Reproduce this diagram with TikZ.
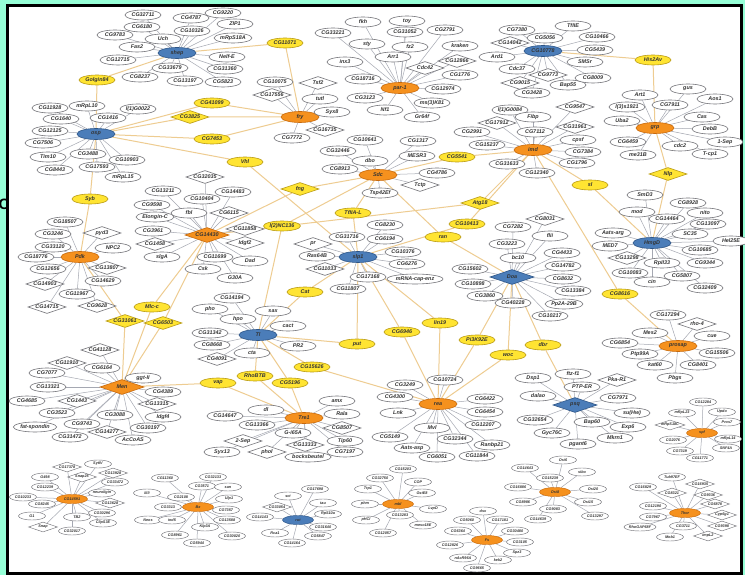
\documentclass[tikz,border=0pt]{standalone}
\usepackage{fontspec}
\setmainfont{Liberation Sans}
\usetikzlibrary{shapes.geometric,backgrounds}
\definecolor{mintframe}{RGB}{150,255,215}
\definecolor{hubfill}{RGB}{245,145,30}
\definecolor{hubline}{RGB}{200,105,10}
\definecolor{bluefill}{RGB}{75,125,185}
\definecolor{blueline}{RGB}{45,85,135}
\definecolor{linkfill}{RGB}{255,228,50}
\definecolor{linkline}{RGB}{185,155,20}
\definecolor{genegray}{RGB}{115,115,120}
\definecolor{edgegray}{RGB}{165,168,178}
\definecolor{edgetan}{RGB}{238,204,145}
\newcommand{\genefnt}{\fontsize{5.4}{5.4}\selectfont\bfseries\itshape}
\newcommand{\smallfnt}{\fontsize{3.8}{3.8}\selectfont\bfseries\itshape}

\begin{document}
\begin{tikzpicture}[
    x=1pt, y=-1pt,
    gn/.style={ellipse,draw=genegray,fill=white,line width=0.6pt,inner sep=0.6pt,
      minimum width=36pt,minimum height=10pt,font=\genefnt,text=black!80},
    gd/.style={diamond,aspect=3,draw=genegray,fill=white,line width=0.6pt,inner sep=0.4pt,
      minimum width=38pt,minimum height=13pt,font=\genefnt,text=black!80},
    hubo/.style={gn,fill=hubfill,draw=hubline,minimum width=38pt,minimum height=11pt},
    hubb/.style={gn,fill=bluefill,draw=blueline,minimum width=38pt,minimum height=11pt},
    hubod/.style={gd,fill=hubfill,draw=hubline,minimum width=44pt,minimum height=15pt},
    hubbd/.style={gd,fill=bluefill,draw=blueline,minimum width=44pt,minimum height=15pt},
    yl/.style={gn,fill=linkfill,draw=linkline},
    yd/.style={gd,fill=linkfill,draw=linkline},
    sg/.style={gn,font=\smallfnt,line width=0.45pt,minimum width=27pt,minimum height=8pt,inner sep=0.3pt},
    sd/.style={gd,font=\smallfnt,line width=0.45pt,minimum width=29pt,minimum height=10pt,inner sep=0.2pt},
    shubo/.style={sg,fill=hubfill,draw=hubline,minimum width=31pt,minimum height=9pt},
    shubb/.style={sg,fill=bluefill,draw=blueline,minimum width=31pt,minimum height=9pt},
    gline/.style={draw=edgegray,line width=0.5pt},
    tline/.style={draw=edgetan,line width=1pt}
  ]
  \useasboundingbox (0,0) rectangle (745,575);

  % shep
  \node[hubb] (shep) at (177,53) {shep};
  \node[gn] (sh1) at (143,15) {CG32711};
  \node[gn] (sh2) at (191,18) {CG4787};
  \node[gn] (sh3) at (142,27) {CG6180};
  \node[gn] (sh4) at (192,31) {CG10326};
  \node[gn] (sh5) at (115,35) {CG9783};
  \node[gn] (sh6) at (163,39) {Uch};
  \node[gn] (sh7) at (137,47) {Fas2};
  \node[gn] (sh8) at (118,60) {CG12715};
  \node[gn] (sh9) at (170,68) {CG33679};
  \node[gn] (sh10) at (140,77) {CG8237};
  \node[gn] (sh11) at (185,81) {CG13197};
  \node[gn] (sh12) at (223,13) {CG9220};
  \node[gn] (sh13) at (235,24) {ZIP1};
  \node[gn] (sh14) at (233,38) {mRpS18A};
  \node[gn] (sh15) at (227,57) {Nelf-E};
  \node[gn] (sh16) at (225,69) {CG31360};
  \node[gn] (sh17) at (223,82) {CG5823};

  % osp
  \node[hubb] (osp) at (96,134) {osp};
  \node[gn] (os1) at (87,106) {mRpL10};
  \node[gn] (os2) at (50,108) {CG11928};
  \node[gn] (os3) at (138,109) {l(1)G0022};
  \node[gn] (os4) at (61,119) {CG1640};
  \node[gn] (os5) at (108,118) {CG1416};
  \node[gn] (os6) at (50,131) {CG12125};
  \node[gn] (os7) at (43,143) {CG7506};
  \node[gn] (os8) at (48,157) {Tim10};
  \node[gn] (os9) at (88,154) {CG3488};
  \node[gn] (os10) at (127,160) {CG10903};
  \node[gn] (os11) at (55,170) {CG8443};
  \node[gn] (os12) at (97,167) {CG17593};
  \node[gn] (os13) at (123,177) {mRpL15};

  % fry
  \node[hubo] (fry) at (300,117) {fry};
  \node[gn] (fr1) at (275,82) {CG10075};
  \node[gd] (fr2) at (318,83) {Tsf2};
  \node[gd] (fr3) at (272,95) {CG17556};
  \node[gn] (fr4) at (320,99) {tutl};
  \node[gn] (fr5) at (332,112) {Syx8};
  \node[gd] (fr6) at (325,130) {CG16735};
  \node[gn] (fr7) at (292,138) {CG7772};

  % par-1
  \node[hubo] (par) at (400,88) {par-1};
  \node[gn] (pa1) at (363,22) {fkh};
  \node[gn] (pa2) at (407,21) {toy};
  \node[gn] (pa3) at (333,33) {CG33221};
  \node[gn] (pa4) at (405,32) {CG31052};
  \node[gn] (pa5) at (445,30) {CG2791};
  \node[gn] (pa6) at (367,44) {sty};
  \node[gn] (pa7) at (410,47) {fz2};
  \node[gn] (pa8) at (460,46) {kraken};
  \node[gn] (pa9) at (345,62) {inx3};
  \node[gn] (pa10) at (393,57) {Arr1};
  \node[gd] (pa11) at (425,68) {Cdc42};
  \node[gd] (pa12) at (457,61) {CG12866};
  \node[gn] (pa13) at (460,75) {CG1776};
  \node[gn] (pa14) at (363,79) {CG18716};
  \node[gn] (pa15) at (443,89) {CG12974};
  \node[gn] (pa16) at (365,98) {CG3123};
  \node[gn] (pa17) at (432,103) {ms(3)K81};
  \node[gn] (pa18) at (385,110) {Nf1};
  \node[gn] (pa19) at (422,117) {Gr64f};

  % Sdc
  \node[hubo] (Sdc) at (378,175) {Sdc};
  \node[gn] (sd1) at (365,140) {CG10641};
  \node[gn] (sd2) at (338,151) {CG32446};
  \node[gn] (sd3) at (370,161) {dbo};
  \node[gn] (sd4) at (340,169) {CG8913};
  \node[gn] (sd5) at (418,141) {CG1317};
  \node[gn] (sd6) at (417,156) {MESR3};
  \node[gn] (sd7) at (437,173) {CG4786};
  \node[gd] (sd8) at (420,185) {Tctp};
  \node[gn] (sd9) at (380,193) {Tsp42Ef};

  % CG10778
  \node[hubb] (cgb) at (543,51) {CG10778};
  \node[gn] (cb1) at (517,30) {CG7380};
  \node[gn] (cb2) at (545,38) {CG5056};
  \node[gd] (cb3) at (510,43) {CG14042};
  \node[gn] (cb4) at (497,57) {Ard1};
  \node[gn] (cb5) at (517,69) {Cdc37};
  \node[gd] (cb6) at (548,75) {CG9773};
  \node[gd] (cb7) at (520,83) {CG9015};
  \node[gn] (cb8) at (568,85) {Bap55};
  \node[gn] (cb9) at (532,93) {CG3428};
  \node[gn] (cb10) at (573,26) {TfIIE};
  \node[gn] (cb11) at (597,37) {CG10466};
  \node[gn] (cb12) at (595,50) {CG5439};
  \node[gn] (cb13) at (585,62) {SMSr};
  \node[gn] (cb14) at (593,78) {CG8009};

  % imd
  \node[hubo] (imd) at (533,150) {imd};
  \node[gn] (im1) at (510,110) {l(1)G0084};
  \node[gd] (im2) at (575,107) {CG9547};
  \node[gn] (im3) at (533,117) {Fibp};
  \node[gd] (im4) at (497,123) {CG17912};
  \node[gn] (im5) at (472,132) {CG2991};
  \node[gn] (im6) at (535,132) {CG7112};
  \node[gn] (im7) at (487,145) {CG15237};
  \node[gd] (im8) at (575,127) {CG31961};
  \node[gn] (im9) at (578,140) {cpsf};
  \node[gn] (im10) at (583,152) {CG7384};
  \node[gn] (im11) at (577,163) {CG1796};
  \node[gn] (im12) at (507,164) {CG31633};
  \node[gn] (im13) at (537,173) {CG12340};

  % grp
  \node[hubo] (grp) at (655,128) {grp};
  \node[gn] (gr1) at (688,89) {gus};
  \node[gn] (gr2) at (640,95) {Art1};
  \node[gn] (gr3) at (715,99) {Aos1};
  \node[gn] (gr4) at (627,107) {l(3)s1921};
  \node[gn] (gr5) at (670,105) {CG7911};
  \node[gn] (gr6) at (622,121) {Uba2};
  \node[gn] (gr7) at (702,117) {Cas};
  \node[gn] (gr8) at (710,129) {DebB};
  \node[gn] (gr9) at (628,142) {CG6459};
  \node[gn] (gr10) at (680,146) {cdc2};
  \node[gn] (gr11) at (725,142) {1-Sep};
  \node[gn] (gr12) at (638,155) {me31B};
  \node[gn] (gr13) at (710,154) {T-cp1};

  % Pdk
  \node[hubo] (Pdk) at (80,257) {Pdk};
  \node[gn] (pd1) at (65,222) {CG18507};
  \node[gn] (pd2) at (53,234) {CG3246};
  \node[gd] (pd3) at (102,233) {pyd3};
  \node[gn] (pd4) at (53,247) {CG33120};
  \node[gn] (pd5) at (113,248) {NPC2};
  \node[gn] (pd6) at (36,257) {CG18776};
  \node[gn] (pd7) at (48,269) {CG12656};
  \node[gd] (pd8) at (107,268) {CG13807};
  \node[gd] (pd9) at (45,284) {CG14903};
  \node[gn] (pd10) at (103,281) {CG14629};
  \node[gn] (pd11) at (77,294) {CG11967};
  \node[gd] (pd12) at (47,307) {CG14715};
  \node[gd] (pd13) at (97,306) {CG9628};

  % CG14430
  \node[hubod] (cgd) at (207,235) {CG14430};
  \node[gn] (cd1) at (163,191) {CG13211};
  \node[gd] (cd2) at (205,177) {CG32035};
  \node[gn] (cd3) at (233,192) {CG14483};
  \node[gn] (cd4) at (152,205) {CG9598};
  \node[gn] (cd5) at (202,199) {CG10404};
  \node[gn] (cd6) at (155,217) {Elongin-C};
  \node[gn] (cd7) at (189,213) {fbl};
  \node[gd] (cd8) at (229,213) {CG6115};
  \node[gn] (cd9) at (153,231) {CG3961};
  \node[gd] (cd10) at (155,244) {CG1458};
  \node[gd] (cd11) at (245,229) {CG11858};
  \node[gn] (cd12) at (162,257) {slgA};
  \node[gd] (cd13) at (245,243) {Idgf2};
  \node[gn] (cd14) at (215,257) {CG11699};
  \node[gn] (cd15) at (250,261) {Dad};
  \node[gn] (cd16) at (203,269) {Csk};
  \node[gn] (cd17) at (235,278) {G30A};

  % slp1
  \node[hubb] (slp) at (358,257) {slp1};
  \node[gn] (sl1) at (347,237) {CG31716};
  \node[gd] (sl2) at (313,244) {pr};
  \node[gn] (sl3) at (317,256) {Ras64B};
  \node[gd] (sl4) at (325,269) {CG11033};
  \node[gn] (sl5) at (368,277) {CG17168};
  \node[gn] (sl6) at (348,289) {CG11807};
  \node[gn] (sl7) at (385,225) {CG8230};
  \node[gn] (sl8) at (385,239) {CG6194};
  \node[gn] (sl9) at (403,252) {CG10376};
  \node[gn] (sl10) at (407,264) {CG6276};
  \node[gn] (sl11) at (415,279) {mRNA-cap-enz};

  % Doa
  \node[hubbd] (Doa) at (512,277) {Doa};
  \node[gd] (do1) at (545,219) {CG8031};
  \node[gn] (do2) at (513,227) {CG7282};
  \node[gn] (do3) at (550,236) {flii};
  \node[gn] (do4) at (507,244) {CG3223};
  \node[gn] (do5) at (562,253) {CG4433};
  \node[gn] (do6) at (518,258) {bc10};
  \node[gn] (do7) at (563,266) {CG14782};
  \node[gn] (do8) at (470,269) {CG15602};
  \node[gn] (do9) at (563,279) {CG8632};
  \node[gn] (do10) at (473,284) {CG10898};
  \node[gn] (do11) at (573,291) {CG13384};
  \node[gn] (do12) at (485,296) {CG3860};
  \node[gn] (do13) at (513,303) {CG40228};
  \node[gn] (do14) at (564,304) {Pp2A-29B};
  \node[gn] (do15) at (550,316) {CG10217};

  % HmgD
  \node[hubb] (HmgD) at (652,243) {HmgD};
  \node[gn] (hm1) at (645,195) {SmD3};
  \node[gn] (hm2) at (688,203) {CG8928};
  \node[gn] (hm3) at (637,212) {mod};
  \node[gn] (hm4) at (667,219) {CG14464};
  \node[gn] (hm5) at (705,213) {nito};
  \node[gn] (hm6) at (708,224) {CG13097};
  \node[gn] (hm7) at (613,233) {Aats-arg};
  \node[gn] (hm8) at (690,234) {SC35};
  \node[gn] (hm9) at (731,241) {Hel25E};
  \node[gn] (hm10) at (610,246) {MED7};
  \node[gn] (hm11) at (700,250) {CG10685};
  \node[gd] (hm12) at (627,258) {CG13298};
  \node[gn] (hm13) at (662,263) {RpII33};
  \node[gn] (hm14) at (705,263) {CG9344};
  \node[gn] (hm15) at (630,273) {CG10083};
  \node[gn] (hm16) at (682,276) {CG5807};
  \node[gn] (hm17) at (652,282) {cin};
  \node[gn] (hm18) at (705,288) {CG32409};

  % Tl
  \node[hubb] (Tl) at (258,335) {Tl};
  \node[gn] (tl1) at (232,298) {CG14194};
  \node[gn] (tl2) at (210,309) {pho};
  \node[gn] (tl3) at (273,311) {sax};
  \node[gn] (tl4) at (238,319) {hpo};
  \node[gn] (tl5) at (288,326) {cact};
  \node[gn] (tl6) at (210,333) {CG31342};
  \node[gn] (tl7) at (212,345) {CG8668};
  \node[gn] (tl8) at (298,346) {PR2};
  \node[gn] (tl9) at (252,353) {cta};
  \node[gd] (tl10) at (217,359) {CG4091};

  % prosap
  \node[hubo] (prosap) at (678,346) {prosap};
  \node[gn] (pr1) at (668,315) {CG17294};
  \node[gd] (pr2) at (697,324) {rho-4};
  \node[gn] (pr3) at (650,333) {Mes2};
  \node[gn] (pr4) at (712,336) {cue};
  \node[gn] (pr5) at (620,343) {CG6854};
  \node[gn] (pr6) at (717,353) {CG15506};
  \node[gn] (pr7) at (640,354) {Ptp99A};
  \node[gn] (pr8) at (655,365) {kat60};
  \node[gn] (pr9) at (698,365) {CG8401};
  \node[gn] (pr10) at (675,378) {Pbgs};

  % Men
  \node[hubod] (Men) at (122,387) {Men};
  \node[gd] (me1) at (100,350) {CG41128};
  \node[gd] (me2) at (67,363) {CG11910};
  \node[gn] (me3) at (102,368) {CG6164};
  \node[gn] (me4) at (47,373) {CG7077};
  \node[gn] (me5) at (143,378) {ggt-II};
  \node[gn] (me6) at (48,387) {CG13321};
  \node[gn] (me7) at (163,392) {CG4389};
  \node[gn] (me8) at (27,401) {CG4685};
  \node[gd] (me9) at (77,401) {CG1443};
  \node[gd] (me10) at (157,404) {CG13315};
  \node[gn] (me11) at (57,413) {CG3523};
  \node[gn] (me12) at (115,415) {CG3088};
  \node[gn] (me13) at (163,417) {Idgf4};
  \node[gn] (me14) at (35,427) {fat-spondin};
  \node[gn] (me15) at (82,424) {CG9743};
  \node[gd] (me16) at (107,432) {CG14277};
  \node[gn] (me17) at (148,428) {CG30197};
  \node[gn] (me18) at (70,437) {CG31472};
  \node[gn] (me19) at (133,440) {AcCoAS};

  % Tre1
  \node[hubo] (Tre) at (304,418) {Tre1};
  \node[gn] (tr1) at (337,401) {amx};
  \node[gn] (tr2) at (266,410) {dl};
  \node[gn] (tr3) at (225,416) {CG14647};
  \node[gn] (tr4) at (342,414) {Rala};
  \node[gn] (tr5) at (257,425) {CG13366};
  \node[gd] (tr6) at (342,428) {CG8507};
  \node[gn] (tr7) at (293,433) {G-i65A};
  \node[gd] (tr8) at (243,441) {2-Sep};
  \node[gd] (tr9) at (305,445) {CG13333};
  \node[gn] (tr10) at (345,441) {Tip60};
  \node[gn] (tr11) at (222,452) {Syx13};
  \node[gd] (tr12) at (267,452) {phol};
  \node[gn] (tr13) at (308,457) {bocksbeutel};
  \node[gn] (tr14) at (345,452) {CG7197};

  % rea
  \node[hubo] (rea) at (438,404) {rea};
  \node[gn] (re1) at (405,385) {CG3249};
  \node[gn] (re2) at (445,380) {CG10724};
  \node[gn] (re3) at (395,397) {CG4300};
  \node[gn] (re4) at (485,399) {CG6422};
  \node[gn] (re5) at (398,413) {Lnk};
  \node[gn] (re6) at (485,412) {CG6454};
  \node[gn] (re7) at (432,428) {Mvl};
  \node[gn] (re8) at (483,425) {CG12207};
  \node[gn] (re9) at (390,437) {CG5149};
  \node[gn] (re10) at (455,439) {CG32344};
  \node[gn] (re11) at (492,445) {Ranbp21};
  \node[gn] (re12) at (412,448) {Aats-asp};
  \node[gn] (re13) at (437,457) {CG6051};
  \node[gn] (re14) at (477,456) {CG11844};

  % psq
  \node[hubbd] (psq) at (575,405) {psq};
  \node[gn] (ps1) at (533,378) {Dsp1};
  \node[gn] (ps2) at (573,374) {ftz-f1};
  \node[gd] (ps3) at (617,380) {Pka-R1};
  \node[gn] (ps4) at (582,387) {PTP-ER};
  \node[gn] (ps5) at (538,396) {dalao};
  \node[gn] (ps6) at (618,398) {CG7971};
  \node[gn] (ps7) at (632,413) {su(Hw)};
  \node[gn] (ps8) at (535,420) {CG32654};
  \node[gn] (ps9) at (592,422) {Bap60};
  \node[gn] (ps10) at (628,427) {Exp6};
  \node[gn] (ps11) at (552,433) {Gyc76C};
  \node[gn] (ps12) at (615,438) {Mkrn1};
  \node[gn] (ps13) at (578,444) {pgant6};

  % small clusters
  \node[shubo] (cgs) at (72,499) {CG14591};
  \node[sd] (cs1) at (67,467) {CG17378};
  \node[sg] (cs2) at (98,464) {SytIV};
  \node[sd] (cs3) at (82,477) {Snap25};
  \node[sd] (cs4) at (113,473) {CG13928};
  \node[sg] (cs5) at (45,477) {G498};
  \node[sg] (cs6) at (115,482) {CG33472};
  \node[sg] (cs7) at (45,487) {CG12239};
  \node[sg] (cs8) at (23,497) {CG10233};
  \node[sg] (cs9) at (102,493) {neuroligin};
  \node[sg] (cs10) at (42,504) {CG8245};
  \node[sd] (cs11) at (110,503) {CG13628};
  \node[sg] (cs12) at (102,513) {CG30296};
  \node[sg] (cs13) at (32,516) {G1};
  \node[sg] (cs14) at (77,517) {TB2};
  \node[sg] (cs15) at (103,523) {ClipS3E};
  \node[sd] (cs16) at (43,527) {Snap};
  \node[sg] (cs17) at (72,531) {CG32017};

  \node[shubo] (Bx) at (198,507) {Bx};
  \node[sg] (bx1) at (165,478) {CG11360};
  \node[sg] (bx2) at (213,477) {CG32133};
  \node[sg] (bx3) at (202,486) {CG3571};
  \node[sg] (bx4) at (228,487) {san};
  \node[sg] (bx5) at (147,493) {lilli};
  \node[sg] (bx6) at (181,497) {CG2108};
  \node[sg] (bx7) at (229,499) {Ulp1};
  \node[sg] (bx8) at (168,507) {CG3313};
  \node[sg] (bx9) at (226,510) {CG7357};
  \node[sg] (bx10) at (148,520) {Neos};
  \node[sg] (bx11) at (172,520) {ind5};
  \node[sg] (bx12) at (227,520) {CG13588};
  \node[sg] (bx13) at (205,527) {Klp3A};
  \node[sg] (bx14) at (232,536) {CG30020};
  \node[sg] (bx15) at (175,535) {CG8961};
  \node[sg] (bx16) at (197,543) {CG5944};

  \node[shubb] (rut) at (298,520) {rut};
  \node[sg] (ru1) at (315,489) {CG17698};
  \node[sg] (ru2) at (288,496) {sct};
  \node[sg] (ru3) at (323,503) {tau};
  \node[sd] (ru4) at (277,507) {CG33054};
  \node[sg] (ru5) at (328,514) {RpS10a};
  \node[sg] (ru6) at (260,517) {CG14143};
  \node[sg] (ru7) at (323,527) {CG31640};
  \node[sg] (ru8) at (275,533) {Rca1};
  \node[sg] (ru9) at (318,536) {CG5847};
  \node[sg] (ru10) at (292,543) {CG14164};

  \node[shubo] (mbl) at (398,504) {mbl};
  \node[sg] (mb1) at (403,469) {CG15203};
  \node[sg] (mb2) at (380,478) {CG32750};
  \node[sg] (mb3) at (418,482) {COP};
  \node[sg] (mb4) at (368,489) {Trp1};
  \node[sg] (mb5) at (422,493) {GstE8};
  \node[sg] (mb6) at (365,504) {phm};
  \node[sg] (mb7) at (433,509) {LvpD};
  \node[sg] (mb8) at (366,520) {pHCl};
  \node[sg] (mb9) at (400,515) {CG13283};
  \node[sg] (mb10) at (423,525) {meso18E};
  \node[sg] (mb11) at (383,533) {CG12057};

  \node[shubo] (Fs) at (487,540) {Fs};
  \node[sg] (fs1) at (483,511) {dsx};
  \node[sg] (fs2) at (467,520) {CG5060};
  \node[sg] (fs3) at (500,520) {CG17181};
  \node[sg] (fs4) at (458,531) {CG6364};
  \node[sg] (fs5) at (515,531) {CG30480};
  \node[sg] (fs6) at (520,542) {CG3105};
  \node[sg] (fs7) at (450,545) {CG12826};
  \node[sg] (fs8) at (517,553) {Spz3};
  \node[sg] (fs9) at (463,558) {nAcR96A};
  \node[sg] (fs10) at (498,560) {kek2};
  \node[sg] (fs11) at (477,568) {CG9665};

  \node[shubo] (Osi) at (555,492) {Osi8};
  \node[sg] (oi1) at (563,460) {Osi6};
  \node[sg] (oi2) at (525,468) {CG14643};
  \node[sg] (oi3) at (550,478) {CG15239};
  \node[sg] (oi4) at (582,472) {sibo};
  \node[sg] (oi5) at (518,487) {CG16886};
  \node[sg] (oi6) at (593,489) {Osi20};
  \node[sg] (oi7) at (523,502) {CG8986};
  \node[sg] (oi8) at (553,509) {CG9083};
  \node[sg] (oi9) at (588,502) {Osi15};
  \node[sg] (oi10) at (538,519) {CG14639};
  \node[sg] (oi11) at (595,516) {CG13297};

  \node[shubo] (spf) at (702,433) {spf};
  \node[sg] (sp1) at (703,402) {CG12284};
  \node[sg] (sp2) at (682,413) {mRpL23};
  \node[sg] (sp3) at (722,412) {Updo};
  \node[sd] (sp4) at (670,425) {mRpS18C};
  \node[sg] (sp5) at (727,422) {Pros7};
  \node[sg] (sp6) at (673,440) {CG2076};
  \node[sg] (sp7) at (728,439) {mRpL14};
  \node[sg] (sp8) at (726,448) {SNF4A};
  \node[sg] (sp9) at (680,451) {CG7319};
  \node[sg] (sp10) at (700,458) {CG11771};

  \node[shubo] (Thor) at (685,513) {Thor};
  \node[sg] (th1) at (672,477) {Tub97EF};
  \node[sg] (th2) at (643,487) {CG16829};
  \node[sd] (th3) at (700,484) {CG16935};
  \node[sd] (th4) at (672,493) {CG8321};
  \node[sd] (th5) at (708,495) {CG9336};
  \node[sg] (th6) at (653,506) {CG12190};
  \node[sd] (th7) at (715,504) {CG6878};
  \node[sg] (th8) at (653,517) {CG7967};
  \node[sd] (th9) at (722,515) {Cyp6g1};
  \node[sg] (th10) at (683,526) {CG3711};
  \node[sd] (th11) at (722,526) {CG9398};
  \node[sg] (th12) at (640,527) {RhoGAP68F};
  \node[sg] (th13) at (670,537) {Mob1};
  \node[sd] (th14) at (708,536) {impL2};

  % linker genes
  \node[yl] (golgin) at (97,80) {Golgin84};
  \node[yl] (lk11071) at (285,43) {CG11071};
  \node[yl] (lk41099) at (212,103) {CG41099};
  \node[yd] (lk3825) at (190,117) {CG3825};
  \node[yl] (lk7453) at (212,139) {CG7453};
  \node[yl] (vhl) at (245,162) {Vhl};
  \node[yd] (fng) at (300,189) {fng};
  \node[yl] (syb) at (90,199) {Syb};
  \node[yl] (lk5541) at (457,157) {CG5541};
  \node[yl] (his) at (653,60) {His2Av};
  \node[yd] (nlp) at (668,174) {Nlp};
  \node[yl] (slk) at (590,185) {sl};
  \node[yd] (atg) at (480,203) {Atg18};
  \node[yl] (lk10413) at (467,224) {CG10413};
  \node[yl] (ran) at (443,237) {ran};
  \node[yl] (tfa) at (353,213) {TfIIA-L};
  \node[yl] (nc136) at (282,226) {l(2)NC136};
  \node[yl] (cat) at (305,292) {Cat};
  \node[yl] (put) at (357,344) {put};
  \node[yl] (lk15626) at (312,367) {CG15626};
  \node[yl] (rho) at (255,376) {RhoBTB};
  \node[yl] (vap) at (218,383) {vap};
  \node[yl] (lk5196) at (290,383) {CG5196};
  \node[yl] (lin) at (440,323) {lin19};
  \node[yl] (lk6946) at (402,332) {CG6946};
  \node[yl] (pik) at (477,340) {Pi3K92E};
  \node[yl] (dbr) at (543,345) {dbr};
  \node[yl] (woc) at (508,355) {woc};
  \node[yl] (lk8616) at (620,294) {CG8616};
  \node[yl] (mlc) at (152,307) {Mlc-c};
  \node[yd] (lk31061) at (125,321) {CG31061};
  \node[yd] (lk6503) at (163,323) {CG6503};

  \node[font=\fontsize{15}{15}\selectfont\bfseries,inner sep=0] (cut) at (4,204) {C};

  \begin{pgfonlayer}{background}
    \fill[mintframe] (0,0) rectangle (745,575);
    \fill[black] (6,4) rectangle (743,575);
    \fill[white] (9,7) rectangle (740,572);

    \foreach \i in {1,...,17} \draw[gline] (shep) -- (sh\i);
    \foreach \i in {1,...,13} \draw[gline] (osp) -- (os\i);
    \foreach \i in {1,...,7} \draw[gline] (fry) -- (fr\i);
    \foreach \i in {1,...,19} \draw[gline] (par) -- (pa\i);
    \foreach \i in {1,...,9} \draw[gline] (Sdc) -- (sd\i);
    \foreach \i in {1,...,14} \draw[gline] (cgb) -- (cb\i);
    \foreach \i in {1,...,13} \draw[gline] (imd) -- (im\i);
    \foreach \i in {1,...,13} \draw[gline] (grp) -- (gr\i);
    \foreach \i in {1,...,13} \draw[gline] (Pdk) -- (pd\i);
    \foreach \i in {1,...,17} \draw[gline] (cgd) -- (cd\i);
    \foreach \i in {1,...,11} \draw[gline] (slp) -- (sl\i);
    \foreach \i in {1,...,15} \draw[gline] (Doa) -- (do\i);
    \foreach \i in {1,...,18} \draw[gline] (HmgD) -- (hm\i);
    \foreach \i in {1,...,10} \draw[gline] (Tl) -- (tl\i);
    \foreach \i in {1,...,10} \draw[gline] (prosap) -- (pr\i);
    \foreach \i in {1,...,19} \draw[gline] (Men) -- (me\i);
    \foreach \i in {1,...,14} \draw[gline] (Tre) -- (tr\i);
    \foreach \i in {1,...,14} \draw[gline] (rea) -- (re\i);
    \foreach \i in {1,...,13} \draw[gline] (psq) -- (ps\i);
    \foreach \i in {1,...,17} \draw[gline] (cgs) -- (cs\i);
    \foreach \i in {1,...,16} \draw[gline] (Bx) -- (bx\i);
    \foreach \i in {1,...,10} \draw[gline] (rut) -- (ru\i);
    \foreach \i in {1,...,11} \draw[gline] (mbl) -- (mb\i);
    \foreach \i in {1,...,11} \draw[gline] (Fs) -- (fs\i);
    \foreach \i in {1,...,11} \draw[gline] (Osi) -- (oi\i);
    \foreach \i in {1,...,10} \draw[gline] (spf) -- (sp\i);
    \foreach \i in {1,...,14} \draw[gline] (Thor) -- (th\i);

    % hub to hub through linker genes
    \draw[tline] (shep) -- (golgin) -- (osp);
    \draw[tline] (shep) -- (lk11071) -- (fry);
    \draw[tline] (osp) -- (lk41099) -- (fry);
    \draw[tline] (osp) -- (lk3825) -- (fry);
    \draw[tline] (osp) -- (lk7453) -- (fry);
    \draw[tline] (osp) -- (vhl) -- (slp);
    \draw[tline] (Sdc) -- (fng) -- (cgd);
    \draw[tline] (osp) -- (syb) -- (Pdk);
    \draw[tline] (Sdc) -- (lk5541) -- (imd);
    \draw[tline] (cgb) -- (his) -- (grp);
    \draw[tline] (grp) -- (nlp) -- (HmgD);
    \draw[tline] (imd) -- (slk) -- (HmgD);
    \draw[tline] (imd) -- (atg) -- (cgd);
    \draw[tline] (imd) -- (lk10413) -- (slp);
    \draw[tline] (Sdc) -- (ran) -- (Doa);
    \draw[tline] (Sdc) -- (tfa) -- (slp);
    \draw[tline] (Sdc) -- (nc136) -- (Tl);
    \draw[tline] (slp) -- (cat) -- (Tl);
    \draw[tline] (slp) -- (put) -- (Tl);
    \draw[tline] (Tl) -- (lk15626) -- (rea);
    \draw[tline] (Tl) -- (rho) -- (Tre);
    \draw[tline] (Men) -- (vap) -- (Tre);
    \draw[tline] (Tl) -- (lk5196) -- (Tre);
    \draw[tline] (slp) -- (lin) -- (rea);
    \draw[tline] (slp) -- (lk6946) -- (rea);
    \draw[tline] (Doa) -- (pik) -- (rea);
    \draw[tline] (Doa) -- (woc) -- (rea);
    \draw[tline] (Doa) -- (dbr) -- (psq);
    \draw[tline] (imd) -- (lk8616) -- (prosap);
    \draw[tline] (cgd) -- (mlc) -- (Men);
    \draw[tline] (Pdk) -- (lk31061) -- (Men);
    \draw[tline] (cgd) -- (lk6503) -- (Men);
  \end{pgfonlayer}
\end{tikzpicture}
\end{document}
